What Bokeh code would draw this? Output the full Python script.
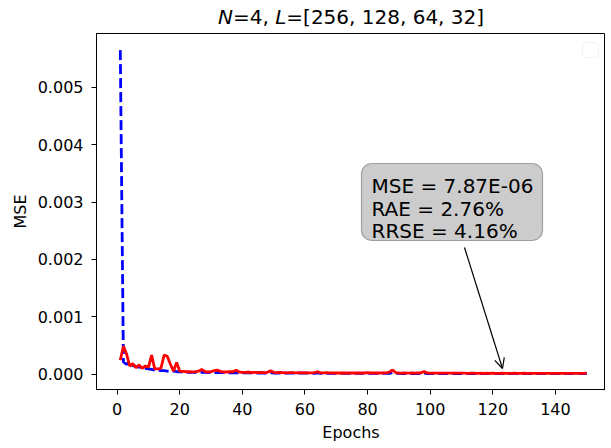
from bokeh.plotting import figure
from bokeh.layouts import column, row
from bokeh.models import (Range1d, NumeralTickFormatter, FixedTicker, BoxAnnotation,
                          Label, Arrow, OpenHead, Div, Spacer)
from bokeh.embed import file_html
from bokeh.resources import INLINE

# ---------------- data ----------------
epochs = list(range(1, 151))

train_mse = [
    5.65e-3, 2.1e-4, 1.7e-4, 2.0e-4, 1.5e-4, 1.3e-4, 1.2e-4, 1.1e-4, 1.0e-4, 9e-5,
    8e-5, 7e-5, 7e-5, 6e-5, 6e-5, 5e-5, 5e-5, 5e-5, 4e-5, 4e-5,
    3.5e-5, 3.5e-5, 3e-5, 3e-5, 3e-5, 3e-5, 2.8e-5, 2.8e-5, 2.6e-5, 2.6e-5,
    2.5e-5, 2.4e-5, 2.4e-5, 2.3e-5, 2.2e-5, 2.2e-5, 2.1e-5, 2.1e-5, 2e-5, 2e-5,
    2e-5, 1.9e-5, 1.9e-5, 1.8e-5, 1.8e-5, 1.8e-5, 1.7e-5, 1.7e-5, 2.5e-5, 1.7e-5,
    1.6e-5, 1.6e-5, 1.6e-5, 1.5e-5, 1.5e-5, 1.5e-5, 1.5e-5, 1.4e-5, 1.4e-5, 1.4e-5,
    1.4e-5, 1.3e-5, 1.3e-5, 2e-5, 1.3e-5, 1.3e-5, 1.2e-5, 1.2e-5, 1.2e-5, 1.2e-5,
    1.2e-5, 1.1e-5, 1.1e-5, 1.1e-5, 1.1e-5, 1.1e-5, 1.1e-5, 1e-5, 1e-5, 1e-5,
    1e-5, 1e-5, 1e-5, 1e-5, 1e-5, 1e-5, 1.2e-5, 2.5e-5, 1.2e-5, 1e-5,
    9e-6, 9e-6, 9e-6, 9e-6, 9e-6, 9e-6, 9e-6, 1.5e-5, 9e-6, 9e-6,
    8.5e-6, 8.5e-6, 8.5e-6, 8.5e-6, 8.5e-6, 8e-6, 8e-6, 8e-6, 8e-6, 8e-6,
    8e-6, 7.5e-6, 7.5e-6, 7.5e-6, 7.5e-6, 7.5e-6, 7.5e-6, 7.5e-6, 7e-6, 7e-6,
    7e-6, 7e-6, 7e-6, 7e-6, 7e-6, 6.5e-6, 6.5e-6, 6.5e-6, 6.5e-6, 6.5e-6,
    6.5e-6, 6.5e-6, 6e-6, 6e-6, 6e-6, 6e-6, 6e-6, 6e-6, 6e-6, 6e-6,
    5.5e-6, 5.5e-6, 5.5e-6, 5.5e-6, 5.5e-6, 5.5e-6, 5.5e-6, 5.5e-6, 5.5e-6, 7e-6,
]

val_mse = [
    2.4e-4, 4.9e-4, 3.5e-4, 1.4e-4, 1.8e-4, 1.1e-4, 1.6e-4, 1.0e-4, 1.4e-4, 1.2e-4,
    3.3e-4, 9e-5, 9e-5, 1.0e-4, 3.3e-4, 3.1e-4, 1.7e-4, 5e-5, 2.0e-4, 5e-5,
    4.5e-5, 4e-5, 4e-5, 3.5e-5, 4e-5, 5e-5, 8e-5, 4.5e-5, 3.5e-5, 4e-5,
    6e-5, 7e-5, 4.5e-5, 3.5e-5, 3.5e-5, 4e-5, 4e-5, 6.5e-5, 3.5e-5, 3e-5,
    3e-5, 3.5e-5, 2.5e-5, 3e-5, 2.5e-5, 3e-5, 2.5e-5, 3e-5, 5.5e-5, 3e-5,
    2.5e-5, 3e-5, 2.5e-5, 2e-5, 2.5e-5, 2.5e-5, 2e-5, 2.5e-5, 2e-5, 2.5e-5,
    2e-5, 2e-5, 2.5e-5, 4e-5, 2e-5, 2e-5, 2.5e-5, 2e-5, 1.8e-5, 2e-5,
    1.8e-5, 2e-5, 1.8e-5, 2e-5, 1.8e-5, 2e-5, 1.8e-5, 1.8e-5, 2e-5, 2.5e-5,
    1.8e-5, 2e-5, 1.8e-5, 1.8e-5, 2e-5, 2e-5, 3.5e-5, 7e-5, 2.5e-5, 1.8e-5,
    1.6e-5, 1.8e-5, 1.6e-5, 1.8e-5, 1.6e-5, 1.8e-5, 2e-5, 4.5e-5, 2e-5, 1.6e-5,
    1.5e-5, 1.6e-5, 1.5e-5, 1.7e-5, 1.5e-5, 1.4e-5, 1.6e-5, 1.4e-5, 1.5e-5, 1.4e-5,
    1.5e-5, 1.3e-5, 1.4e-5, 1.5e-5, 1.3e-5, 1.4e-5, 1.3e-5, 1.5e-5, 1.3e-5, 1.4e-5,
    1.3e-5, 1.2e-5, 1.4e-5, 1.2e-5, 1.3e-5, 1.2e-5, 1.4e-5, 1.2e-5, 1.3e-5, 1.5e-5,
    1.2e-5, 1.3e-5, 1.2e-5, 1.1e-5, 1.3e-5, 1.2e-5, 1.1e-5, 1.3e-5, 1.2e-5, 1.1e-5,
    1.2e-5, 1.1e-5, 1.3e-5, 1.1e-5, 1.2e-5, 1.1e-5, 1.2e-5, 1.1e-5, 1.3e-5, 1.5e-5,
]

x_ticks = [0, 20, 40, 60, 80, 100, 120, 140]
y_ticks = [0.0, 0.001, 0.002, 0.003, 0.004, 0.005]

title_html = "<i>N</i>=4, <i>L</i>=[256, 128, 64, 32]"
metric_lines = ["MSE = 7.87E-06", "RAE = 2.76%", "RRSE = 4.16%"]
x_label = "Epochs"
y_label = "MSE"

# ---------------- layout ----------------
FONT = "DejaVu Sans"
X0, X1 = -6.6, 156.0
Y0, Y1 = -0.00027, 0.00594
FL, FR, FT, FB = 96, 605, 33, 389   # frame edges in picture pixels
TITLE_H = 32
TITLE_LEFT = 218


def px_x(px):
    return X0 + (px - FL) / (FR - FL) * (X1 - X0)


def px_y(py):
    return Y1 - (py - FT) / (FB - FT) * (Y1 - Y0)


title_div = Div(text=title_html, width=FR - TITLE_LEFT, height=TITLE_H, margin=0,
                styles={"font-family": FONT, "font-size": "20px", "color": "black",
                        "line-height": "34px", "white-space": "nowrap"})
title_row = row(Spacer(width=TITLE_LEFT, height=TITLE_H, margin=0), title_div,
                spacing=0, margin=0)

p = figure(width=FR, height=(FT - TITLE_H) + (FB - FT) + 58,
           output_backend="svg", toolbar_location=None, margin=0,
           x_range=Range1d(X0, X1), y_range=Range1d(Y0, Y1),
           min_border_left=FL, min_border_right=0, min_border_top=FT - TITLE_H,
           min_border_bottom=58)
p.background_fill_color = "white"
p.border_fill_color = "white"
p.outline_line_color = "black"
p.outline_line_width = 1
p.xgrid.visible = False
p.ygrid.visible = False

p.xaxis.ticker = FixedTicker(ticks=x_ticks)
p.yaxis.ticker = FixedTicker(ticks=y_ticks)
p.yaxis.formatter = NumeralTickFormatter(format="0.000")
for ax in (p.xaxis, p.yaxis):
    ax.axis_line_color = "black"
    ax.major_tick_line_color = "black"
    ax.major_tick_out = 5
    ax.major_tick_in = 0
    ax.minor_tick_out = 0
    ax.minor_tick_in = 0
    ax.major_label_text_font = FONT
    ax.major_label_text_font_size = "16px"
    ax.major_label_text_color = "black"
    ax.axis_label_text_font = FONT
    ax.axis_label_text_font_size = "16px"
    ax.axis_label_text_font_style = "normal"
    ax.axis_label_text_color = "black"
p.xaxis.axis_label = x_label
p.yaxis.axis_label = y_label
p.xaxis.major_label_standoff = 8
p.xaxis.axis_label_standoff = 5
p.yaxis.major_label_standoff = 8
p.yaxis.axis_label_standoff = 5

p.line(epochs, train_mse, line_color="#0000ff", line_width=2.8, line_dash="10 4")
p.line(epochs, val_mse, line_color="#ff0000", line_width=2.8)

# empty legend frame
p.add_layout(BoxAnnotation(left=px_x(582), right=px_x(598), top=px_y(42), bottom=px_y(57),
                           fill_color="white", fill_alpha=1, line_color="#d0d0d0",
                           line_width=1, border_radius=3))

# annotation arrow and box
p.add_layout(Arrow(end=OpenHead(size=10, line_width=1.2, line_color="black"),
                   x_start=px_x(464), y_start=px_y(247), x_end=px_x(502), y_end=px_y(368),
                   line_color="black", line_width=1.2))
p.add_layout(BoxAnnotation(left=px_x(361), right=px_x(542), top=px_y(163), bottom=px_y(240),
                           fill_color="#cccccc", fill_alpha=1, line_color="black",
                           line_width=1.2, border_radius=10))
for i, line in enumerate(metric_lines):
    p.add_layout(Label(x=px_x(371), y=px_y(185.5 + 22.5 * i), text=line,
                       text_font=FONT, text_font_size="20px", text_color="black",
                       text_baseline="alphabetic", text_align="left"))

open("out.html", "w").write(file_html(column(title_row, p, spacing=0, margin=0), INLINE))
